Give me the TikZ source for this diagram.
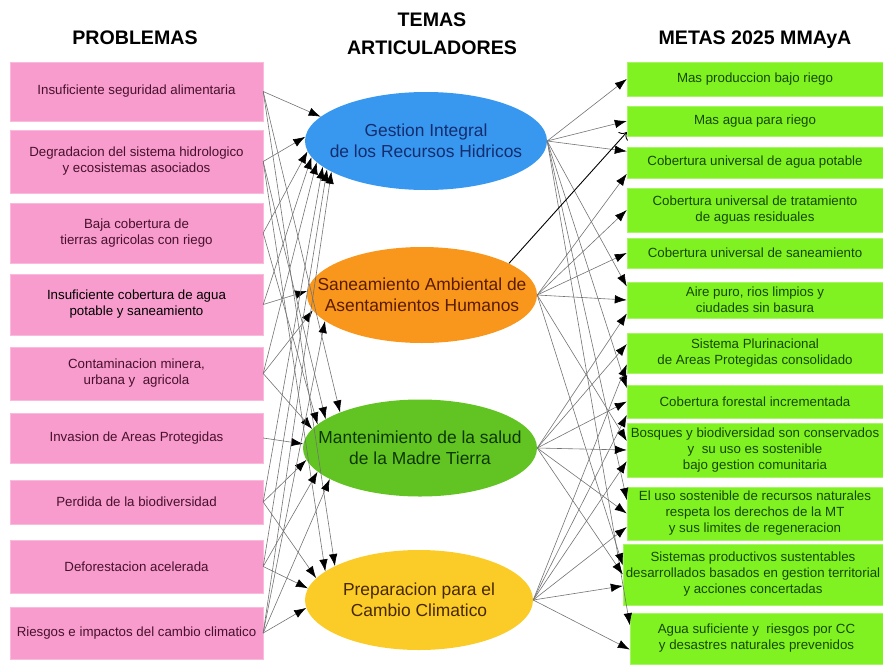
\documentclass[tikz,border=0pt]{standalone}
\usepackage{fontspec}
\setmainfont{Liberation Sans}
\usetikzlibrary{shapes.geometric,arrows.meta}
\definecolor{rosa}{RGB}{247,156,204}
\definecolor{lima}{RGB}{128,242,34}
\definecolor{azul}{RGB}{56,152,240}
\definecolor{naranja}{RGB}{249,150,28}
\definecolor{verde}{RGB}{98,196,34}
\definecolor{amarillo}{RGB}{251,204,40}
\definecolor{textorosa}{RGB}{72,16,46}
\definecolor{textolima}{RGB}{22,72,0}
\begin{document}
\begin{tikzpicture}[x=1pt,y=-1pt,
problema/.style={rectangle,fill=rosa,draw=rosa!70!white,inner sep=0pt,minimum width=253pt,align=center,text=textorosa,font=\fontsize{13.3}{16}\selectfont},
meta/.style={rectangle,fill=lima,draw=lima!70!white,inner sep=0pt,minimum width=256pt,align=center,text=textolima,font=\fontsize{13.3}{16}\selectfont},
tema/.style={ellipse,inner sep=0pt},
titulo/.style={align=center,font=\bfseries\fontsize{19.6}{28}\selectfont},
enlace/.style={draw=black!55,line width=0.6pt,-{Latex[length=12pt,width=8.5pt,black]}}]%PROBLEMAS / TEMAS / METAS
\useasboundingbox (0,0) rectangle (883,664);
% titulos
\node[titulo] (tp) at (135,38) {PROBLEMAS};
\node[titulo] (tt) at (432,34) {TEMAS\\ARTICULADORES};
\node[titulo] (tm) at (755,40) {METAS 2025 MMAyA};
% problemas
\node[problema,minimum height=59pt] (p1) at (136.5,91.5) {Insuficiente seguridad alimentaria};
\node[problema,minimum height=63pt] (p2) at (136.5,161.5) {Degradacion del sistema hidrologico\\ y ecosistemas asociados};
\node[problema,minimum height=60pt] (p3) at (136.5,233) {Baja cobertura de\\ tierras agricolas con riego};
\node[problema,minimum height=61pt,text=black] (p4) at (136.5,304.5) {Insuficiente cobertura de agua\\ potable y saneamiento};
\node[problema,minimum height=53pt] (p5) at (136.5,373.5) {Contaminacion minera,\\ urbana y\ \ agricola};
\node[problema,minimum height=50pt] (p6) at (136.5,438) {Invasion de Areas Protegidas};
\node[problema,minimum height=44pt] (p7) at (136.5,502) {Perdida de la biodiversidad};
\node[problema,minimum height=53pt] (p8) at (136.5,566.5) {Deforestacion acelerada};
\node[problema,minimum height=52pt] (p9) at (136.5,633) {Riesgos e impactos del cambio climatico};
% temas
\node[tema,fill=azul,minimum width=242pt,minimum height=98pt,label={[align=center,text={rgb,255:red,20;green,45;blue,110},font=\fontsize{17.4}{21}\selectfont]center:Gestion Integral\\ de los Recursos Hidricos}] (t1) at (426,141) {};
\node[tema,fill=naranja,minimum width=230pt,minimum height=96pt,label={[align=center,text={rgb,255:red,90;green,28;blue,0},font=\fontsize{17.4}{21}\selectfont]center:Saneamiento Ambiental de\\ Asentamientos Humanos}] (t2) at (422,295) {};
\node[tema,fill=verde,minimum width=234pt,minimum height=97pt,label={[align=center,text={rgb,255:red,14;green,56;blue,0},font=\fontsize{17.4}{21}\selectfont]center:Mantenimiento de la salud\\ de la Madre Tierra}] (t3) at (420,448) {};
\node[tema,fill=amarillo,minimum width=228pt,minimum height=100pt,label={[align=center,text={rgb,255:red,72;green,40;blue,0},font=\fontsize{17.4}{21}\selectfont]center:Preparacion para el\\ Cambio Climatico}] (t4) at (419,600) {};
% metas
\node[meta,minimum height=34pt] (g1) at (755,79) {Mas produccion bajo riego};
\node[meta,minimum height=30pt] (g2) at (755,121) {Mas agua para riego};
\node[meta,minimum height=31pt] (g3) at (755,162.5) {Cobertura universal de agua potable};
\node[meta,minimum height=44pt] (g4) at (755,210) {Cobertura universal de tratamiento\\ de aguas residuales};
\node[meta,minimum height=30pt] (g5) at (755,253) {Cobertura universal de saneamiento};
\node[meta,minimum height=36pt] (g6) at (755,300) {Aire puro, rios limpios y\\ ciudades sin basura};
\node[meta,minimum height=40pt] (g7) at (755,353) {Sistema Plurinacional\\ de Areas Protegidas consolidado};
\node[meta,minimum height=33pt] (g8) at (755,401.5) {Cobertura forestal incrementada};
\node[meta,minimum height=54pt] (g9) at (755,450) {Bosques y biodiversidad son conservados\\ y\ \ su uso es sostenible\\ bajo gestion comunitaria};
\node[meta,minimum height=53pt] (g10) at (755,513.5) {El uso sostenible de recursos naturales\\ respeta los derechos de la MT\\ y sus limites de regeneracion};
\node[meta,minimum height=61pt,minimum width=260pt] (g11) at (753,574.5) {Sistemas productivos sustentables\\ desarrollados basados en gestion territorial\\ y acciones concertadas};
\node[meta,minimum height=51pt,minimum width=253pt] (g12) at (756.5,638.5) {Agua suficiente y\ \ riesgos por CC\\ y desastres naturales prevenidos};
% problemas -> temas
\foreach \p/\t/\a in {p1/t1/167,p1/t3/156,p1/t4/158,p2/t1/178,p2/t3/163,p2/t4/163,
  p3/t1/185,p3/t3/167,p4/t1/188,p4/t2/178,p5/t1/191,p5/t2/188,p5/t3/170,p6/t3/178,
  p7/t1/194,p7/t3/186,p7/t4/168,p8/t1/196,p8/t3/193,p8/t4/174,
  p9/t1/198,p9/t2/195,p9/t3/199,p9/t4/184}
  \draw[enlace] (\p.east) -- (\t.\a);
% temas -> metas
\foreach \t/\g/\a in {t1/g1/180,t1/g2/180,t1/g3/175,t1/g6/174,t1/g8/174,t1/g10/174,t1/g12/174,
  t2/g3/185,t2/g4/180,t2/g5/180,t2/g6/180,t2/g9/176,t2/g11/176,
  t3/g6/186,t3/g7/176,t3/g8/180,t3/g9/180,t3/g10/180,t3/g11/180,
  t4/g7/185,t4/g8/186,t4/g9/185,t4/g10/186,t4/g11/185,t4/g12/185}
  \draw[enlace] (\t.east) -- (\g.\a);
\draw[black,line width=0.9pt,-{To[length=6pt]}] (t2.20) -- (g2.185);
\end{tikzpicture}
\end{document}
